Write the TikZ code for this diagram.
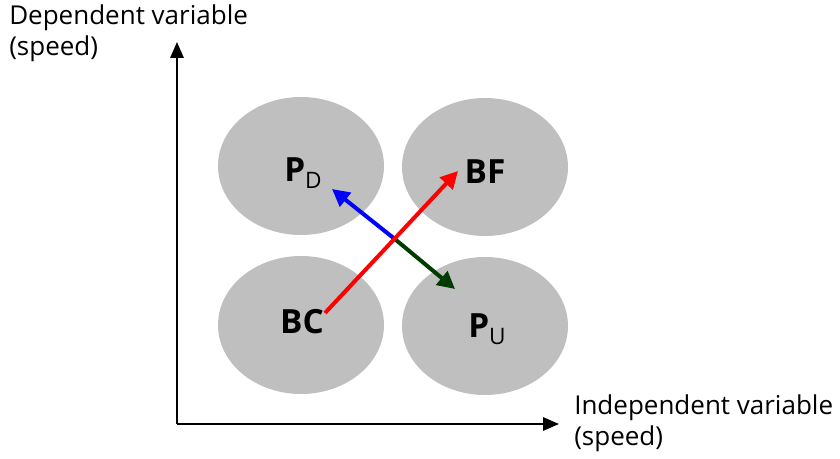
\documentclass[tikz,border=0pt]{standalone}
\usepackage{fontspec}
\setmainfont{Open Sans}
\usetikzlibrary{shapes.geometric, arrows.meta, positioning}

\definecolor{darkgreen}{RGB}{0,60,0}

\newcommand{\lowsub}[1]{\raisebox{-5pt}{\mdseries\fontsize{17}{17}\selectfont #1}}

\tikzset{
    blob/.style={ellipse, fill=black!25, minimum width=124.5pt, minimum height=103.5pt, inner sep=0pt},
    tag/.style={inner sep=0pt, font=\fontsize{25}{30}\selectfont\bfseries},
    axislabel/.style={align=left, inner sep=0pt, font=\fontsize{19.5}{23.5}\selectfont},
    axis/.style={line width=1.5pt, -{Triangle[length=12pt,width=10pt]}},
    move/.style={line width=3pt, -{Triangle[length=13pt,width=13pt]}}
}

\begin{document}
\begin{tikzpicture}[x=0.75pt,y=-0.75pt]
    \useasboundingbox (0,0) rectangle (840,459);

    % Axes
    \coordinate (origin) at (177,424);
    \coordinate (ytip) at (177,42);
    \coordinate (xtip) at (559,424);
    \draw[axis] (origin) -- (ytip);
    \draw[axis] (origin) -- (xtip);
    \node[axislabel, anchor=north west] (ylabel) at (9,4) {Dependent variable\\(speed)};
    \node[axislabel, anchor=north west] (xlabel) at (574,394) {Independent variable\\(speed)};

    % Regions
    \node[blob] (pd) at (301,166) {};
    \node[blob] (bf) at (485,167) {};
    \node[blob] (bc) at (301,325) {};
    \node[blob] (pu) at (485,326) {};
    \node[tag] (pdtext) at (303,173) {P\lowsub{D}};
    \node[tag] (bftext) at (485,172) {BF};
    \node[tag] (bctext) at (302,322) {BC};
    \node[tag] (putext) at (487,329) {P\lowsub{U}};

    % Movements
    \coordinate (cross) at (396,240);
    \coordinate (bcfoot) at (325,313);
    \coordinate (bftip) at (458,171);
    \coordinate (pdtip) at (332,189);
    \coordinate (putip) at (455,289);
    \draw[move, blue] (cross) -- (pdtip);
    \draw[move, darkgreen] (cross) -- (putip);
    \draw[move, red] (bcfoot) -- (bftip);
\end{tikzpicture}
\end{document}
